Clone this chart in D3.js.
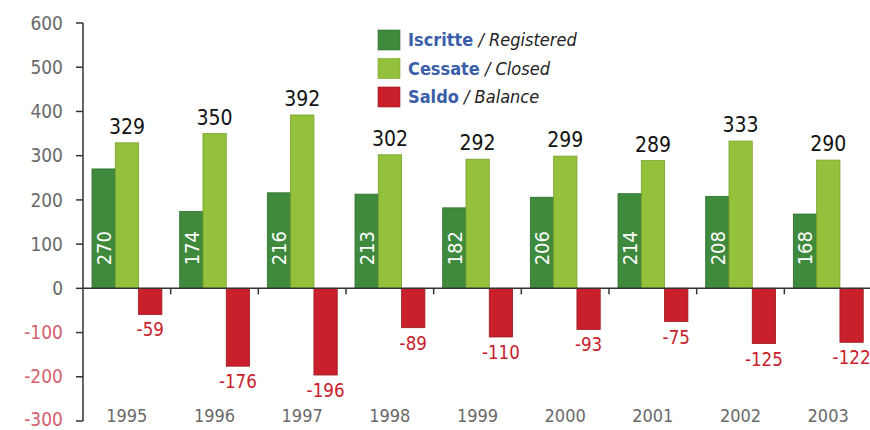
<!DOCTYPE html>
<html>
<head>
<meta charset="utf-8">
<script src="https://cdnjs.cloudflare.com/ajax/libs/d3/7.8.5/d3.min.js"></script>
<style>
  body { margin: 0; background: #fff; }
  svg { display: block; }
  text { font-family: "DejaVu Sans Condensed", "DejaVu Sans", sans-serif; }
</style>
</head>
<body>
<svg width="870" height="430"></svg>
<script>
var years = ["1995", "1996", "1997", "1998", "1999", "2000", "2001", "2002", "2003"];
var iscritte = [270, 174, 216, 213, 182, 206, 214, 208, 168];
var cessate = [329, 350, 392, 302, 292, 299, 289, 333, 290];
var saldo = [-59, -176, -196, -89, -110, -93, -75, -125, -122];
var yTicks = [600, 500, 400, 300, 200, 100, 0, -100, -200, -300];

var seriesNames = ["Iscritte", "Cessate", "Saldo"];
var seriesEnglish = ["Registered", "Closed", "Balance"];
var colors = ["#3f8a3c", "#94c13c", "#c9202c"];
var strokes = ["#2f6e2d", "#78a02c", "#9c1820"];

var svg = d3.select("svg"),
    margin = {top: 23, right: 0, bottom: 9, left: 83},
    width = +svg.attr("width") - margin.left - margin.right,
    height = +svg.attr("height") - margin.top - margin.bottom;

var g = svg.append("g")
    .attr("transform", "translate(" + margin.left + "," + margin.top + ")");

var x = d3.scaleBand()
    .domain(years)
    .range([0, 789]);

var y = d3.scaleLinear()
    .domain([-300, 600])
    .range([398, 0]);

var data = years.map(function(yr, i) {
    return {year: yr, values: [iscritte[i], cessate[i], saldo[i]]};
});

var barW = 23.3, padL = 9;

// y axis
g.append("line")
    .attr("x1", 0).attr("x2", 0)
    .attr("y1", y(600)).attr("y2", y(-300))
    .attr("stroke", "#333").attr("stroke-width", 1.5);

g.selectAll(".ytick")
    .data(yTicks)
    .enter().append("line")
    .attr("x1", -7).attr("x2", 0)
    .attr("y1", function(d) { return y(d); })
    .attr("y2", function(d) { return y(d); })
    .attr("stroke", "#333").attr("stroke-width", 1.5);

g.selectAll(".ylabel")
    .data(yTicks)
    .enter().append("text")
    .attr("x", -20)
    .attr("y", function(d) { return y(d); })
    .attr("dy", function(d) { return d === -300 ? "0.25em" : "0.35em"; })
    .attr("text-anchor", "end")
    .attr("font-size", 19)
    .attr("fill", function(d) { return d < 0 ? "#d2616e" : "#6a6a6a"; })
    .text(function(d) { return d; });

// bars
var groups = g.selectAll(".year")
    .data(data)
    .enter().append("g")
    .attr("transform", function(d) { return "translate(" + x(d.year) + ",0)"; });

groups.selectAll("rect")
    .data(function(d) { return d.values; })
    .enter().append("rect")
    .attr("x", function(d, i) { return padL + i * barW; })
    .attr("width", barW)
    .attr("y", function(d) { return y(Math.max(0, d)); })
    .attr("height", function(d) { return Math.abs(y(d) - y(0)); })
    .attr("fill", function(d, i) { return colors[i]; })
    .attr("stroke", function(d, i) { return strokes[i]; })
    .attr("stroke-width", 0.8);

// zero line + boundary ticks
g.append("line")
    .attr("x1", 0).attr("x2", width)
    .attr("y1", y(0)).attr("y2", y(0))
    .attr("stroke", "#333").attr("stroke-width", 1.5);

g.selectAll(".xtick")
    .data(years.slice(1))
    .enter().append("line")
    .attr("x1", function(d) { return x(d); })
    .attr("x2", function(d) { return x(d); })
    .attr("y1", y(0)).attr("y2", y(0) + 6)
    .attr("stroke", "#333").attr("stroke-width", 1.5);

// year labels
g.selectAll(".xlabel")
    .data(years)
    .enter().append("text")
    .attr("x", function(d) { return x(d) + x.bandwidth() / 2; })
    .attr("y", y(-300) + 1)
    .attr("text-anchor", "middle")
    .attr("font-size", 18)
    .attr("fill", "#6a6a6a")
    .text(function(d) { return d; });

// value labels
groups.append("text")
    .attr("transform", function(d) {
        return "translate(" + (padL + barW / 2) + "," + (y(0) - 23) + ") rotate(-90)";
    })
    .attr("dy", "0.36em")
    .attr("text-anchor", "start")
    .attr("font-size", 20)
    .attr("fill", "#fff")
    .text(function(d) { return d.values[0]; });

groups.append("text")
    .attr("x", padL + barW * 1.5)
    .attr("y", function(d) { return y(d.values[1]) - 9; })
    .attr("text-anchor", "middle")
    .attr("font-size", 21)
    .attr("fill", "#111")
    .text(function(d) { return d.values[1]; });

groups.append("text")
    .attr("transform", function(d) {
        return "translate(" + (padL + barW * 2.5) + "," + (y(d.values[2]) + 22) + ") scale(0.93,1)";
    })
    .attr("text-anchor", "middle")
    .attr("font-size", 20)
    .attr("fill", "#c9202c")
    .text(function(d) { return d.values[2]; });

// legend
var legend = svg.append("g")
    .attr("transform", "translate(378,30)");

var items = legend.selectAll(".item")
    .data(seriesNames)
    .enter().append("g")
    .attr("transform", function(d, i) { return "translate(0," + (i * 28.5) + ")"; });

items.append("rect")
    .attr("width", 22).attr("height", 20)
    .attr("fill", function(d, i) { return colors[i]; })
    .attr("stroke", function(d, i) { return strokes[i]; })
    .attr("stroke-width", 0.6);

var lt = items.append("text")
    .attr("x", 30)
    .attr("y", 10)
    .attr("dy", "0.36em")
    .attr("font-size", 18);

lt.append("tspan")
    .attr("fill", "#3b5ea8")
    .attr("font-weight", "bold")
    .text(function(d) { return d; });

lt.append("tspan")
    .attr("fill", "#222")
    .attr("font-style", "italic")
    .text(function(d, i) { return " / " + seriesEnglish[i]; });
</script>
</body>
</html>
